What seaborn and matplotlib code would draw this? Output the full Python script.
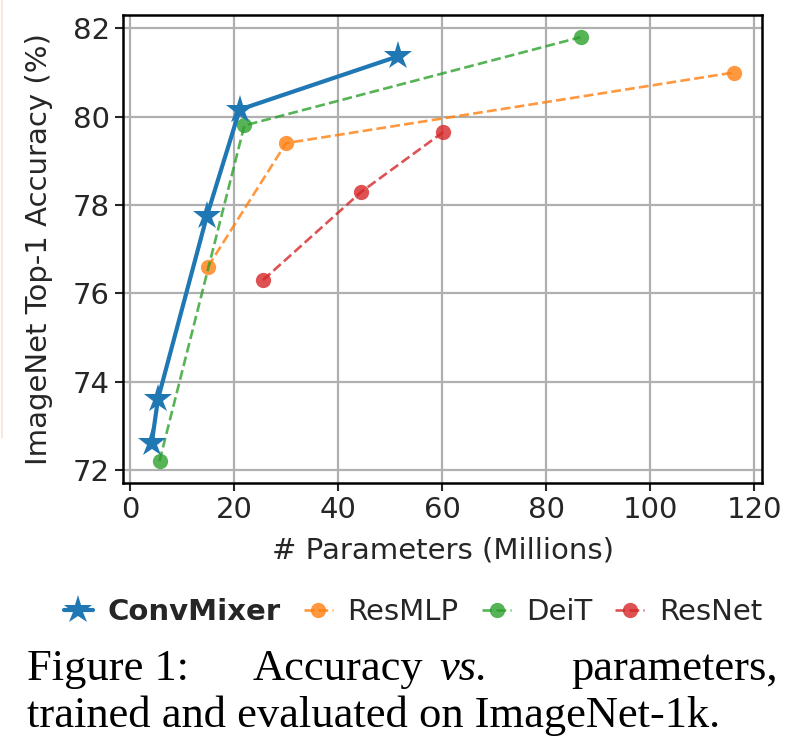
import matplotlib
matplotlib.use("Agg")
import matplotlib.pyplot as plt
from matplotlib.lines import Line2D
import seaborn as sns

# parameters (millions) vs ImageNet top-1 accuracy
convmixer_params = [4.2, 5.4, 14.8, 21.1, 51.6]
convmixer_acc = [72.6, 73.6, 77.75, 80.16, 81.37]
resmlp_params = [15.0, 30.0, 116.0]
resmlp_acc = [76.6, 79.4, 81.0]
deit_params = [5.7, 22.0, 86.6]
deit_acc = [72.2, 79.8, 81.8]
resnet_params = [25.6, 44.5, 60.2]
resnet_acc = [76.3, 78.3, 79.65]

x_ticks = [0, 20, 40, 60, 80, 100, 120]
y_ticks = [72, 74, 76, 78, 80, 82]

sns.set_style("white")
plt.rcParams["font.family"] = ["DejaVu Sans"]

fig = plt.figure(figsize=(7.94, 7.56), dpi=100)
ax = fig.add_axes([0.155, 0.361, 0.805, 0.619])

pal = sns.color_palette("tab10")

sns.lineplot(x=convmixer_params, y=convmixer_acc, ax=ax, sort=False, color=pal[0],
             marker="*", markersize=21, markeredgewidth=0, linewidth=3, label="ConvMixer", zorder=5)
sns.lineplot(x=resmlp_params, y=resmlp_acc, ax=ax, sort=False, color=pal[1], alpha=0.8,
             marker="o", markersize=11, markeredgewidth=0, linewidth=1.9, linestyle="--", label="ResMLP")
sns.lineplot(x=deit_params, y=deit_acc, ax=ax, sort=False, color=pal[2], alpha=0.8,
             marker="o", markersize=11, markeredgewidth=0, linewidth=1.9, linestyle="--", label="DeiT")
sns.lineplot(x=resnet_params, y=resnet_acc, ax=ax, sort=False, color=pal[3], alpha=0.8,
             marker="o", markersize=11, markeredgewidth=0, linewidth=1.9, linestyle="--", label="ResNet")

ax.set_xlim(-1.3, 121.5)
ax.set_ylim(71.7, 82.3)
ax.set_xticks(x_ticks)
ax.set_yticks(y_ticks)
ax.grid(True, color="#b0b0b0", linewidth=1.6)
ax.tick_params(labelsize=21, length=6, width=1.5, direction="out", left=True, bottom=True)
for s in ax.spines.values():
    s.set_color("black")
    s.set_linewidth(1.8)
ax.set_xlabel("# Parameters (Millions)", fontsize=21, labelpad=9)
ax.set_ylabel("ImageNet Top-1 Accuracy (%)", fontsize=21, labelpad=14)

handles, labels = ax.get_legend_handles_labels()
leg = fig.legend(handles, labels, loc="center", bbox_to_anchor=(0.52, 0.19), ncol=4,
                 frameon=False, fontsize=21, handlelength=1.0, handletextpad=0.5,
                 columnspacing=0.8)
ax.get_legend().remove()
leg.get_texts()[0].set_fontweight("bold")

# caption (justified first line)
cap = dict(fontsize=32, family="Liberation Serif", va="baseline", color="black")
fig.text(0.034, 0.1, "Figure 1:", ha="left", **cap)
fig.text(0.318, 0.1, "Accuracy", ha="left", **cap)
fig.text(0.553, 0.1, "vs.", ha="left", style="italic", **cap)
fig.text(0.98, 0.1, "parameters,", ha="right", **cap)
fig.text(0.034, 0.038, "trained and evaluated on ImageNet-1k.", ha="left", **cap)

# faint crop edge at the left border
fig.add_artist(Line2D([0.003, 0.003], [0.42, 1.0], transform=fig.transFigure,
                      color="#fbe3d0", linewidth=1.2))

fig.savefig("out.png", dpi=100)
